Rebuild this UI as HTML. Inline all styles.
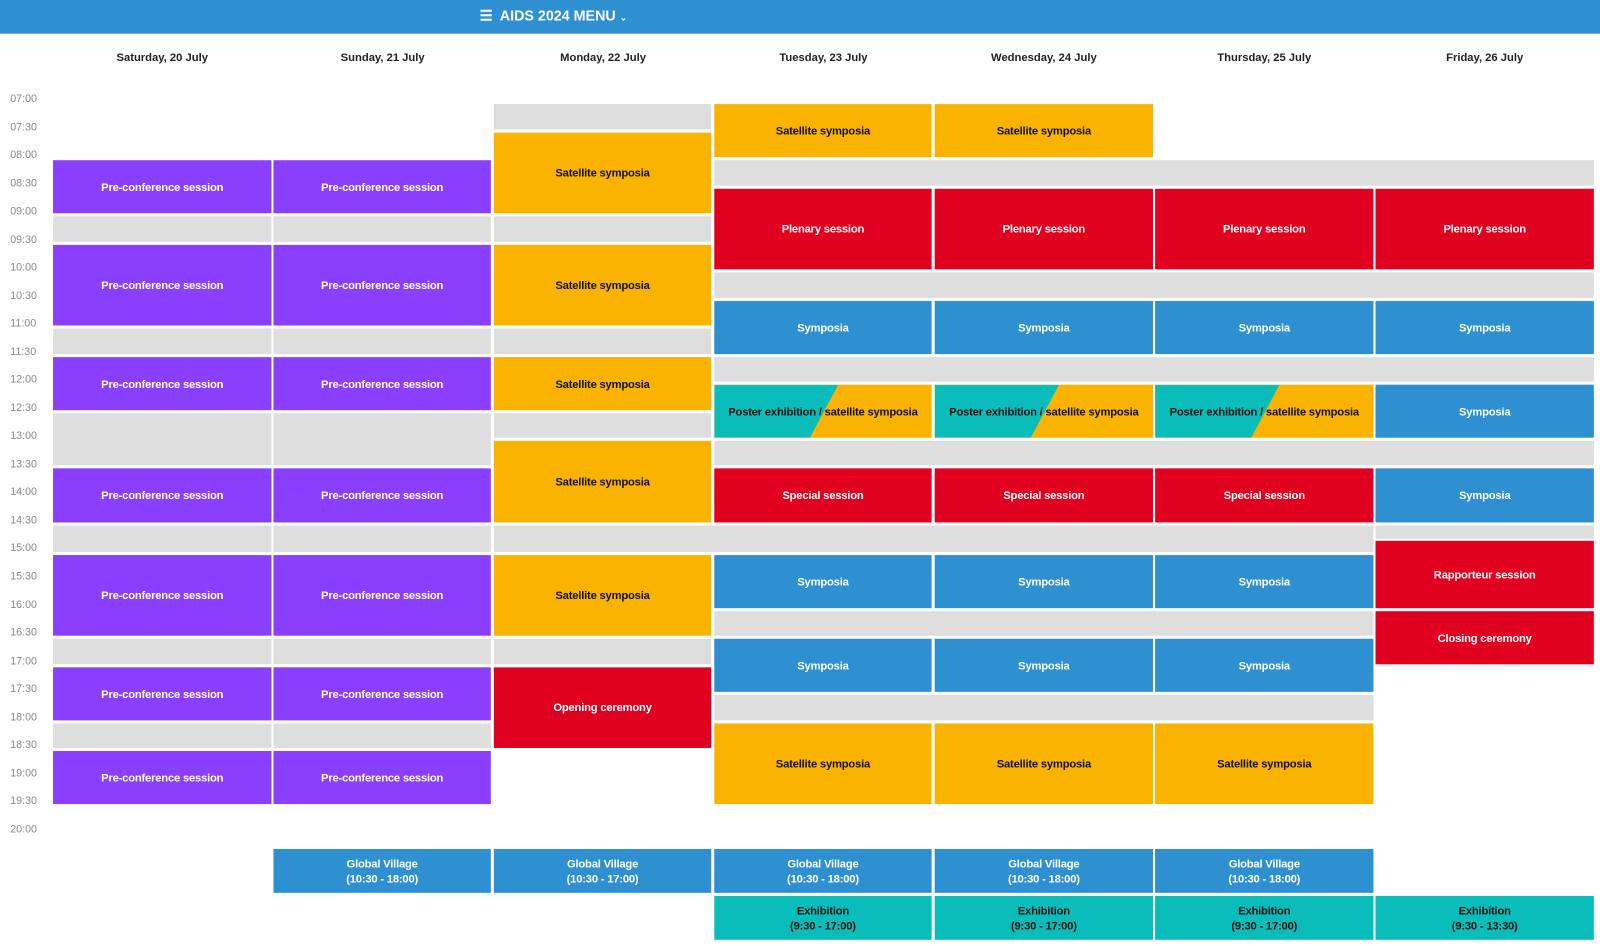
<!DOCTYPE html>
<html><head><meta charset="utf-8"><style>
html,body{margin:0;padding:0;background:#fff;overflow:hidden;width:1600px;height:946px}
#w{position:absolute;left:0;top:0;width:1568px;height:927px;transform:scale(1.0204);transform-origin:0 0;font-family:"Liberation Sans",sans-serif}
.b{position:absolute;display:flex;align-items:center;justify-content:center;text-align:center;font-weight:bold;font-size:11px;letter-spacing:-0.2px;line-height:15px;box-sizing:border-box;padding-top:2px}
.p{background:#8A3FFC;color:#fff}.o{background:#F9B300;color:#111}.r{background:#E0001F;color:#fff}.u{background:#2E90D1;color:#fff}.t{background:#0BBDBA;color:#111}.g{background:#DEDEDE}
.tm{position:absolute;left:10px;font-size:10.5px;color:#888;margin-top:2px}
.d{position:absolute;top:51px;width:214px;text-align:center;font-size:11px;font-weight:bold;color:#222}
.ps{background:#F9B300;color:#111;overflow:hidden}
.ps::before{content:"";position:absolute;inset:0;background:#0BBDBA;clip-path:polygon(0 0,57% 0,44% 100%,0 100%)}
.ps span{position:relative}
</style></head><body><div id="w">
<div style="position:absolute;left:0;top:0;width:1568px;height:33px;background:#2E90D1"></div>
<div style="position:absolute;left:470px;top:7px;color:#fff;font-weight:bold;font-size:14px">☰&nbsp; AIDS 2024 MENU <span style="font-size:9px">⌄</span></div>
<div class="d" style="left:52px">Saturday, 20 July</div>
<div class="d" style="left:268px">Sunday, 21 July</div>
<div class="d" style="left:484px">Monday, 22 July</div>
<div class="d" style="left:700px">Tuesday, 23 July</div>
<div class="d" style="left:916px">Wednesday, 24 July</div>
<div class="d" style="left:1132px">Thursday, 25 July</div>
<div class="d" style="left:1348px">Friday, 26 July</div>
<div class="tm" style="top:89px">07:00</div><div class="tm" style="top:117px">07:30</div><div class="tm" style="top:144px">08:00</div><div class="tm" style="top:172px">08:30</div><div class="tm" style="top:199px">09:00</div><div class="tm" style="top:227px">09:30</div><div class="tm" style="top:254px">10:00</div><div class="tm" style="top:282px">10:30</div><div class="tm" style="top:309px">11:00</div><div class="tm" style="top:337px">11:30</div><div class="tm" style="top:364px">12:00</div><div class="tm" style="top:392px">12:30</div><div class="tm" style="top:419px">13:00</div><div class="tm" style="top:447px">13:30</div><div class="tm" style="top:474px">14:00</div><div class="tm" style="top:502px">14:30</div><div class="tm" style="top:529px">15:00</div><div class="tm" style="top:557px">15:30</div><div class="tm" style="top:585px">16:00</div><div class="tm" style="top:612px">16:30</div><div class="tm" style="top:640px">17:00</div><div class="tm" style="top:667px">17:30</div><div class="tm" style="top:695px">18:00</div><div class="tm" style="top:722px">18:30</div><div class="tm" style="top:750px">19:00</div><div class="tm" style="top:777px">19:30</div><div class="tm" style="top:805px">20:00</div>

<!-- Saturday -->
<div class="b p" style="left:52px;top:157px;width:214px;height:52px">Pre-conference session</div>
<div class="b g" style="left:52px;top:212px;width:214px;height:25px"></div>
<div class="b p" style="left:52px;top:240px;width:214px;height:79px">Pre-conference session</div>
<div class="b g" style="left:52px;top:322px;width:214px;height:25px"></div>
<div class="b p" style="left:52px;top:350px;width:214px;height:52px">Pre-conference session</div>
<div class="b g" style="left:52px;top:405px;width:214px;height:51px"></div>
<div class="b p" style="left:52px;top:459px;width:214px;height:53px">Pre-conference session</div>
<div class="b g" style="left:52px;top:515px;width:214px;height:26px"></div>
<div class="b p" style="left:52px;top:544px;width:214px;height:79px">Pre-conference session</div>
<div class="b g" style="left:52px;top:626px;width:214px;height:25px"></div>
<div class="b p" style="left:52px;top:654px;width:214px;height:52px">Pre-conference session</div>
<div class="b g" style="left:52px;top:709px;width:214px;height:24px"></div>
<div class="b p" style="left:52px;top:736px;width:214px;height:52px">Pre-conference session</div>
<!-- Sunday -->
<div class="b p" style="left:268px;top:157px;width:213px;height:52px">Pre-conference session</div>
<div class="b g" style="left:268px;top:212px;width:213px;height:25px"></div>
<div class="b p" style="left:268px;top:240px;width:213px;height:79px">Pre-conference session</div>
<div class="b g" style="left:268px;top:322px;width:213px;height:25px"></div>
<div class="b p" style="left:268px;top:350px;width:213px;height:52px">Pre-conference session</div>
<div class="b g" style="left:268px;top:405px;width:213px;height:51px"></div>
<div class="b p" style="left:268px;top:459px;width:213px;height:53px">Pre-conference session</div>
<div class="b g" style="left:268px;top:515px;width:213px;height:26px"></div>
<div class="b p" style="left:268px;top:544px;width:213px;height:79px">Pre-conference session</div>
<div class="b g" style="left:268px;top:626px;width:213px;height:25px"></div>
<div class="b p" style="left:268px;top:654px;width:213px;height:52px">Pre-conference session</div>
<div class="b g" style="left:268px;top:709px;width:213px;height:24px"></div>
<div class="b p" style="left:268px;top:736px;width:213px;height:52px">Pre-conference session</div>
<div class="b u" style="left:268px;top:832px;width:213px;height:43px">Global Village<br>(10:30 - 18:00)</div>
<!-- Monday -->
<div class="b g" style="left:484px;top:102px;width:213px;height:25px"></div>
<div class="b o" style="left:484px;top:130px;width:213px;height:79px">Satellite symposia</div>
<div class="b g" style="left:484px;top:212px;width:213px;height:25px"></div>
<div class="b o" style="left:484px;top:240px;width:213px;height:79px">Satellite symposia</div>
<div class="b g" style="left:484px;top:322px;width:213px;height:25px"></div>
<div class="b o" style="left:484px;top:350px;width:213px;height:52px">Satellite symposia</div>
<div class="b g" style="left:484px;top:405px;width:213px;height:24px"></div>
<div class="b o" style="left:484px;top:432px;width:213px;height:80px">Satellite symposia</div>
<div class="b g" style="left:484px;top:515px;width:862px;height:26px"></div>
<div class="b o" style="left:484px;top:544px;width:213px;height:79px">Satellite symposia</div>
<div class="b g" style="left:484px;top:626px;width:213px;height:25px"></div>
<div class="b r" style="left:484px;top:654px;width:213px;height:79px">Opening ceremony</div>
<div class="b u" style="left:484px;top:832px;width:213px;height:43px">Global Village<br>(10:30 - 17:00)</div>
<!-- Tue-Fri spans -->
<div class="b g" style="left:700px;top:157px;width:862px;height:25px"></div>
<div class="b g" style="left:700px;top:267px;width:862px;height:25px"></div>
<div class="b g" style="left:700px;top:350px;width:862px;height:24px"></div>
<div class="b g" style="left:700px;top:432px;width:862px;height:24px"></div>
<div class="b g" style="left:700px;top:599px;width:646px;height:24px"></div>
<div class="b g" style="left:700px;top:681px;width:646px;height:25px"></div>

<div class="b o" style="left:700px;top:102px;width:213px;height:52px">Satellite symposia</div>
<div class="b o" style="left:916px;top:102px;width:214px;height:52px">Satellite symposia</div>

<div class="b r" style="left:700px;top:185px;width:213px;height:79px">Plenary session</div>
<div class="b r" style="left:916px;top:185px;width:214px;height:79px">Plenary session</div>
<div class="b r" style="left:1132px;top:185px;width:214px;height:79px">Plenary session</div>
<div class="b r" style="left:1348px;top:185px;width:214px;height:79px">Plenary session</div>

<div class="b u" style="left:700px;top:295px;width:213px;height:52px">Symposia</div>
<div class="b u" style="left:916px;top:295px;width:214px;height:52px">Symposia</div>
<div class="b u" style="left:1132px;top:295px;width:214px;height:52px">Symposia</div>
<div class="b u" style="left:1348px;top:295px;width:214px;height:52px">Symposia</div>

<div class="b ps" style="left:700px;top:377px;width:213px;height:52px"><span>Poster exhibition / satellite symposia</span></div>
<div class="b ps" style="left:916px;top:377px;width:214px;height:52px"><span>Poster exhibition / satellite symposia</span></div>
<div class="b ps" style="left:1132px;top:377px;width:214px;height:52px"><span>Poster exhibition / satellite symposia</span></div>
<div class="b u" style="left:1348px;top:377px;width:214px;height:52px">Symposia</div>

<div class="b r" style="left:700px;top:459px;width:213px;height:53px">Special session</div>
<div class="b r" style="left:916px;top:459px;width:214px;height:53px">Special session</div>
<div class="b r" style="left:1132px;top:459px;width:214px;height:53px">Special session</div>
<div class="b u" style="left:1348px;top:459px;width:214px;height:53px">Symposia</div>

<div class="b g" style="left:1348px;top:515px;width:214px;height:13px"></div>
<div class="b r" style="left:1348px;top:530px;width:214px;height:66px">Rapporteur session</div>
<div class="b r" style="left:1348px;top:599px;width:214px;height:52px">Closing ceremony</div>

<div class="b u" style="left:700px;top:544px;width:213px;height:52px">Symposia</div>
<div class="b u" style="left:916px;top:544px;width:214px;height:52px">Symposia</div>
<div class="b u" style="left:1132px;top:544px;width:214px;height:52px">Symposia</div>
<div class="b u" style="left:700px;top:626px;width:213px;height:52px">Symposia</div>
<div class="b u" style="left:916px;top:626px;width:214px;height:52px">Symposia</div>
<div class="b u" style="left:1132px;top:626px;width:214px;height:52px">Symposia</div>
<div class="b o" style="left:700px;top:709px;width:213px;height:79px">Satellite symposia</div>
<div class="b o" style="left:916px;top:709px;width:214px;height:79px">Satellite symposia</div>
<div class="b o" style="left:1132px;top:709px;width:214px;height:79px">Satellite symposia</div>

<div class="b u" style="left:700px;top:832px;width:213px;height:43px">Global Village<br>(10:30 - 18:00)</div>
<div class="b u" style="left:916px;top:832px;width:214px;height:43px">Global Village<br>(10:30 - 18:00)</div>
<div class="b u" style="left:1132px;top:832px;width:214px;height:43px">Global Village<br>(10:30 - 18:00)</div>
<div class="b t" style="left:700px;top:878px;width:213px;height:43px">Exhibition<br>(9:30 - 17:00)</div>
<div class="b t" style="left:916px;top:878px;width:214px;height:43px">Exhibition<br>(9:30 - 17:00)</div>
<div class="b t" style="left:1132px;top:878px;width:214px;height:43px">Exhibition<br>(9:30 - 17:00)</div>
<div class="b t" style="left:1348px;top:878px;width:214px;height:43px">Exhibition<br>(9:30 - 13:30)</div>
</div></body></html>
